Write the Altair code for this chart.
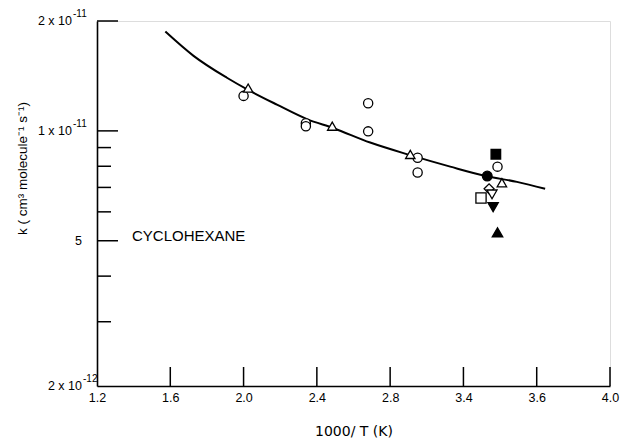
import altair as alt
import pandas as pd

# ---- data -------------------------------------------------------------
# smooth fit curve through the measurements
fit_x = [1.573, 1.727, 1.909, 2.037, 2.182, 2.346, 2.491, 2.691, 2.910, 3.128, 3.328, 3.492, 3.646]
fit_k = [1.871e-11, 1.605e-11, 1.398e-11, 1.285e-11, 1.180e-11, 1.077e-11, 1.017e-11,
         9.29e-12, 8.58e-12, 7.98e-12, 7.51e-12, 7.25e-12, 6.94e-12]

open_circle_x = [2.00, 2.34, 2.34, 2.68, 2.68, 2.95, 2.95, 3.386]
open_circle_k = [1.247e-11, 1.05e-11, 1.03e-11, 1.19e-11, 9.97e-12, 8.44e-12, 7.69e-12, 7.98e-12]

open_triangle_x = [2.025, 2.484, 2.91, 3.41]
open_triangle_k = [1.31e-11, 1.03e-11, 8.62e-12, 7.21e-12]

filled_square_x = [3.377]
filled_square_k = [8.63e-12]

filled_circle_x = [3.330]
filled_circle_k = [7.52e-12]

open_diamond_x = [3.340]
open_diamond_k = [6.94e-12]

open_down_triangle_x = [3.356]
open_down_triangle_k = [6.70e-12]

open_square_x = [3.296]
open_square_k = [6.55e-12]

filled_down_triangle_x = [3.362]
filled_down_triangle_k = [6.18e-12]

filled_triangle_x = [3.386]
filled_triangle_k = [5.27e-12]

# axis ticks and labels
x_tick_values = [1.2, 1.6, 2.0, 2.4, 2.8, 3.2, 3.6, 4.0]
x_tick_labels = ["1.2", "1.6", "2.0", "2.4", "2.8", "3.4", "3.6", "4.0"]

y_major_ticks = [2e-11, 1e-11, 5e-12]
y_minor_ticks = [9e-12, 8e-12, 7e-12, 6e-12, 4e-12, 3e-12]

y_label_upper_values = [2e-11, 1e-11]
y_label_upper_base = ["2 x 10", "1 x 10"]
y_label_upper_sup = ["-11", "-11"]

y_label_lower_values = [5e-12, 2e-12]
y_label_lower_base = ["5", "2 x 10"]
y_label_lower_sup = ["", "-12"]

# ---- tables -----------------------------------------------------------
series = [
    ("open circle", open_circle_x, open_circle_k),
    ("open triangle", open_triangle_x, open_triangle_k),
    ("filled square", filled_square_x, filled_square_k),
    ("filled circle", filled_circle_x, filled_circle_k),
    ("open diamond", open_diamond_x, open_diamond_k),
    ("open down triangle", open_down_triangle_x, open_down_triangle_k),
    ("open square", open_square_x, open_square_k),
    ("filled down triangle", filled_down_triangle_x, filled_down_triangle_k),
    ("filled triangle", filled_triangle_x, filled_triangle_k),
]
points = pd.DataFrame(
    [{"invT": x, "k": k, "kind": name} for name, xs, ks in series for x, k in zip(xs, ks)]
)
fit = pd.DataFrame({"invT": fit_x, "k": fit_k})

kinds = [s[0] for s in series]
shapes = ["circle", "triangle-up", "square", "circle", "diamond",
          "triangle-down", "square", "triangle-down", "triangle-up"]
fills = ["white" if k.startswith("open") else "black" for k in kinds]
sizes = [85, 110, 90, 95, 60, 105, 90, 115, 115]

FONT = "Liberation Sans"
NARROW = "Liberation Sans Narrow, Liberation Sans"

x_scale = alt.Scale(domain=[1.2, 4.0], nice=False, zero=False)
y_scale = alt.Scale(type="log", domain=[2e-12, 2e-11], nice=False)

label_expr = " : ".join(
    [f"datum.value > {v - 0.01} && datum.value < {v + 0.01} ? '{l}'"
     for v, l in zip(x_tick_values, x_tick_labels)] + ["''"]
)

x_axis = alt.Axis(
    values=x_tick_values, labelExpr=label_expr, ticks=False, tickSize=0, grid=False,
    domainColor="black", domainWidth=1.6, labelFont=FONT, labelFontSize=12.5,
    labelColor="black", labelPadding=5, labelFlush=False,
    title="1000/ T (K)", titleFont="DejaVu Sans", titleFontSize=14,
    titleFontWeight="normal", titleColor="black", titleY=45, titleBaseline="middle",
)
y_axis = alt.Axis(
    values=y_major_ticks + [2e-12], labels=False, ticks=False, tickSize=0, grid=False,
    domainColor="black", domainWidth=1.6,
    title="k ( cm³ molecule⁻¹ s⁻¹)", titleFont=NARROW, titleFontSize=13.5,
    titleFontWeight="normal", titleColor="black", titleAngle=270,
    titleX=-75, titleY=147, titleAlign="center", titleBaseline="middle",
)

base = alt.Chart(fit)

curve = base.mark_line(color="black", strokeWidth=2, interpolate="monotone").encode(
    x=alt.X("invT:Q", scale=x_scale, axis=x_axis),
    y=alt.Y("k:Q", scale=y_scale, axis=y_axis),
)

marks = alt.Chart(points).mark_point(stroke="black", strokeWidth=1.3, opacity=1, filled=False).encode(
    x=alt.X("invT:Q", scale=x_scale),
    y=alt.Y("k:Q", scale=y_scale),
    shape=alt.Shape("kind:N", scale=alt.Scale(domain=kinds, range=shapes), legend=None),
    fill=alt.Fill("kind:N", scale=alt.Scale(domain=kinds, range=fills), legend=None),
    size=alt.Size("kind:N", scale=alt.Scale(domain=kinds, range=sizes), legend=None),
)

# inward ticks
x_ticks = alt.Chart(pd.DataFrame({"v": x_tick_values[1:]})).mark_rule(
    color="black", strokeWidth=1.5
).encode(x=alt.X("v:Q", scale=x_scale), y=alt.value(365), y2=alt.value(346))

y_major = alt.Chart(pd.DataFrame({"v": y_major_ticks})).mark_rule(
    color="black", strokeWidth=1.5
).encode(y=alt.Y("v:Q", scale=y_scale), x=alt.value(0), x2=alt.value(21))

y_minor = alt.Chart(pd.DataFrame({"v": y_minor_ticks})).mark_rule(
    color="black", strokeWidth=1.5
).encode(y=alt.Y("v:Q", scale=y_scale), x=alt.value(0), x2=alt.value(14))

# y tick labels with superscript exponents
def y_labels(values, bases, sups, right_x):
    df = pd.DataFrame({"v": values, "base": bases, "sup": sups})
    c = alt.Chart(df)
    main = c.mark_text(font=FONT, fontSize=12.5, align="right", baseline="middle", color="black").encode(
        y=alt.Y("v:Q", scale=y_scale), x=alt.value(right_x), text="base:N"
    )
    sup = c.mark_text(font=FONT, fontSize=10, align="left", baseline="middle", color="black", dy=-7).encode(
        y=alt.Y("v:Q", scale=y_scale), x=alt.value(right_x + 1), text="sup:N"
    )
    return main + sup

upper_labels = y_labels(y_label_upper_values, y_label_upper_base, y_label_upper_sup, -25)
lower_labels = y_labels(y_label_lower_values, y_label_lower_base, y_label_lower_sup, -15)

name = alt.Chart(pd.DataFrame({"t": ["CYCLOHEXANE"]})).mark_text(
    font=FONT, fontSize=15, align="left", baseline="middle", color="black"
).encode(x=alt.value(35), y=alt.value(215), text="t:N")

chart = alt.layer(
    curve, x_ticks, y_major, y_minor, marks, upper_labels, lower_labels, name
).properties(
    width=513, height=365,
    autosize=alt.AutoSizeParams(type="none"),
    padding={"left": 97, "top": 21, "right": 11, "bottom": 53},
).configure_view(stroke=None).configure(background="white")

chart.save("out.html", embed_options={"renderer": "svg", "actions": False})
